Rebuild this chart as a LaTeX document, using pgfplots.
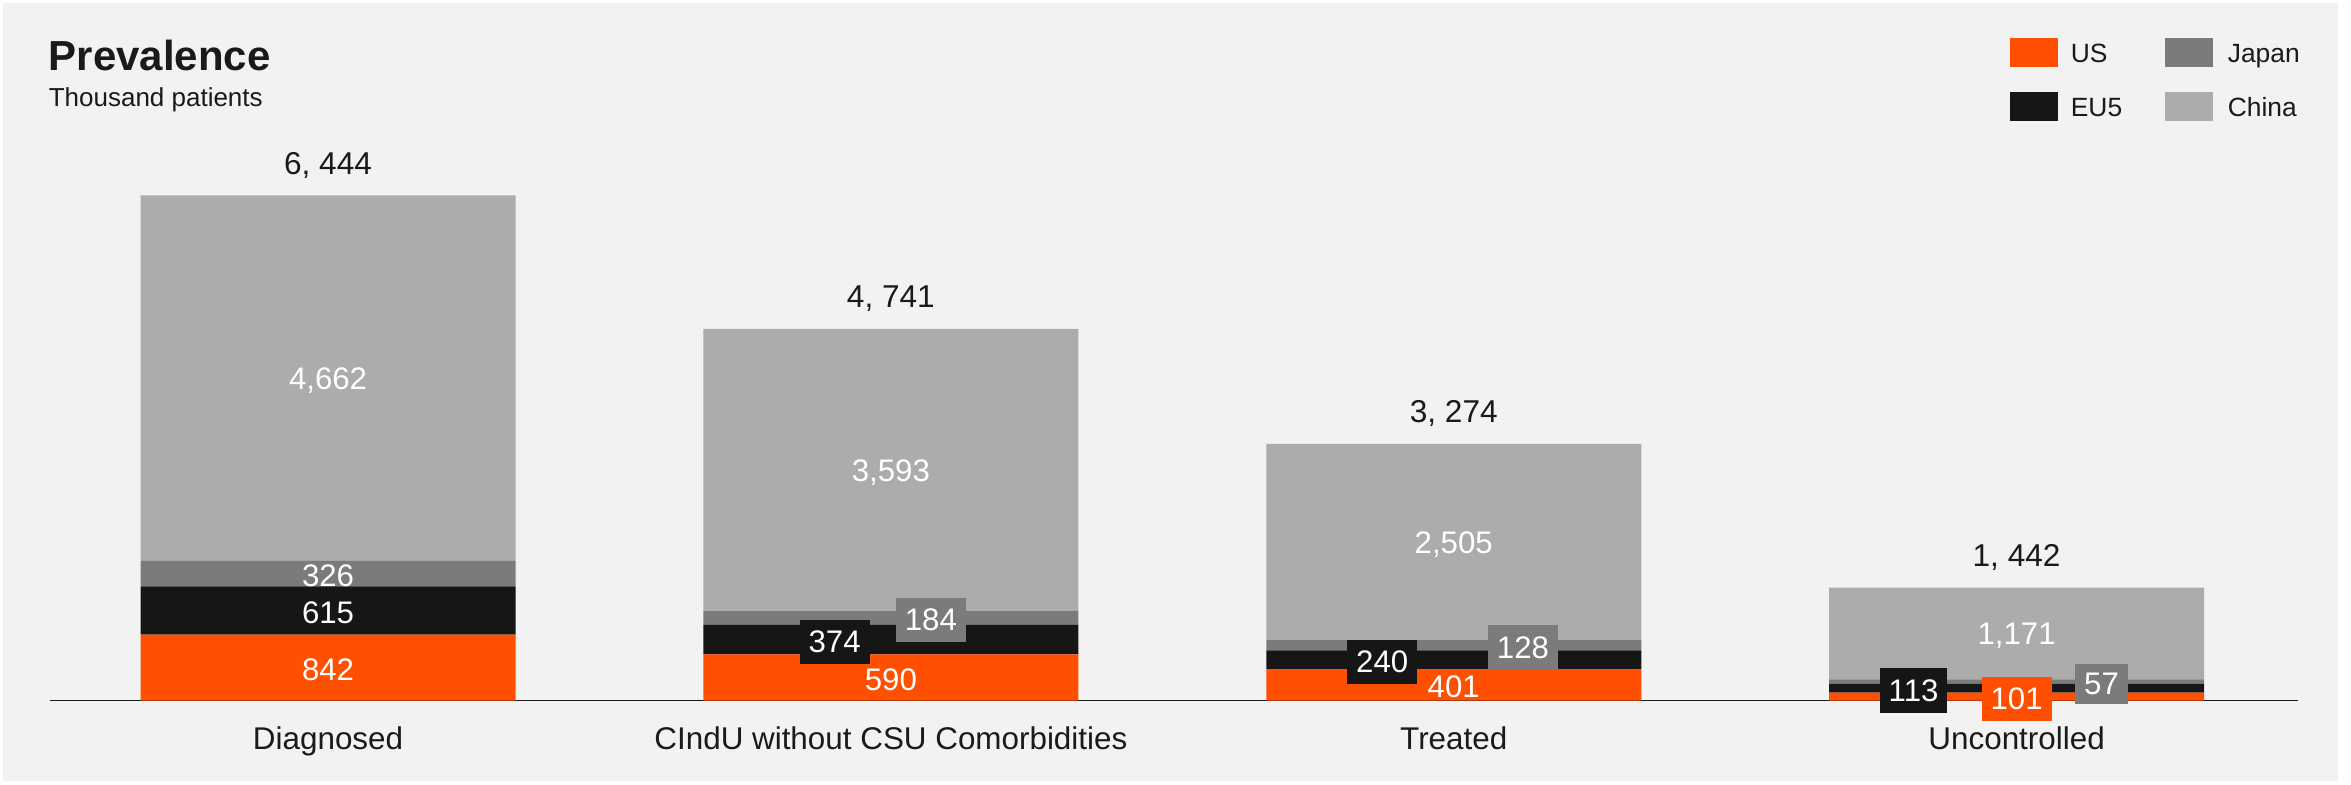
\documentclass[border=0pt]{standalone}
\usepackage{pgfplots}
\pgfplotsset{compat=1.18}
\usepackage{fontspec}
\setmainfont{Liberation Sans}
\definecolor{bg}{HTML}{F2F2F2}
\definecolor{us}{HTML}{FF4F00}
\definecolor{eu}{HTML}{161616}
\definecolor{jp}{HTML}{7B7B7B}
\definecolor{cn}{HTML}{ACACAC}
\definecolor{txt}{HTML}{1A1A1A}
\begin{document}
\begin{tikzpicture}[
  lbl/.style={font=\fontsize{7.8}{9}\selectfont, text=white, inner xsep=2.25pt, inner ysep=2.8pt, anchor=center, yshift=-0.6pt},
  tot/.style={font=\fontsize{7.9}{9}\selectfont, text=txt, anchor=base, yshift=5.3pt, inner sep=0pt},
  leg/.style={font=\fontsize{6.6}{8}\selectfont, text=txt, anchor=base west, inner sep=0pt}]
\useasboundingbox (-12.5pt,-20.875pt) rectangle (575.25pt,175.125pt);
\fill[white] (-12.5pt,-20.875pt) rectangle (575.25pt,175.125pt);
\fill[bg] (-11.75pt,-20.125pt) rectangle (572pt,174.375pt);
\begin{axis}[
  at={(0,0)}, anchor=south west,
  scale only axis, width=562pt, height=156.74pt,
  xmin=-0.494, xmax=3.5, ymin=0, ymax=8000,
  ybar stacked, bar width=93.75pt,
  axis x line*=bottom, axis y line=none,
  x axis line style={draw=txt, line width=0.45pt, -},
  xtick={0,1,2,3},
  xticklabels={Diagnosed, CIndU without CSU Comorbidities, Treated, Uncontrolled},
  major tick length=0pt,
  xticklabel style={font=\fontsize{7.85}{9}\selectfont, text=txt, anchor=base, yshift=-12.2pt, inner sep=0pt},
  ytick=\empty,
  clip=false,
]
\addplot[fill=us, draw=none] coordinates {(0,842) (1,590) (2,401) (3,101)};
\addplot[fill=eu, draw=none] coordinates {(0,615) (1,374) (2,240) (3,113)};
\addplot[fill=jp, draw=none] coordinates {(0,326) (1,184) (2,128) (3,57)};
\addplot[fill=cn, draw=none] coordinates {(0,4662) (1,3593) (2,2505) (3,1171)};
% label anchor positions (segment centres)
\coordinate (d1) at (axis cs:0,421);
\coordinate (d2) at (axis cs:0,1149.5);
\coordinate (d3) at (axis cs:0,1620);
\coordinate (d4) at (axis cs:0,4114);
\coordinate (c1) at (axis cs:1,295);
\coordinate (c2) at (axis cs:0.9,777);
\coordinate (c3) at (axis cs:1.071,1056);
\coordinate (c4) at (axis cs:1,2944.5);
\coordinate (t1) at (axis cs:2,200.5);
\coordinate (t2) at (axis cs:1.873,521);
\coordinate (t3) at (axis cs:2.123,705);
\coordinate (t4) at (axis cs:2,2021.5);
\coordinate (u1) at (axis cs:3,50.5);
\coordinate (u2) at (axis cs:2.817,157.5);
\coordinate (u3) at (axis cs:3.151,242.5);
\coordinate (u4) at (axis cs:3,856.5);
\coordinate (dT) at (axis cs:0,6445);
\coordinate (cT) at (axis cs:1,4741);
\coordinate (tT) at (axis cs:2,3274);
\coordinate (uT) at (axis cs:3,1442);
\end{axis}
% segment labels
\node[lbl] at (d1) {842};
\node[lbl] at (d2) {615};
\node[lbl] at (d3) {326};
\node[lbl] at (d4) {4,662};
\node[lbl] at (c1) {590};
\node[lbl, fill=eu] at (c2) {374};
\node[lbl, fill=jp] at (c3) {184};
\node[lbl] at (c4) {3,593};
\node[lbl] at (t1) {401};
\node[lbl, fill=eu] at (t2) {240};
\node[lbl, fill=jp] at (t3) {128};
\node[lbl] at (t4) {2,505};
\node[lbl, fill=eu] at (u2) {113};
\node[lbl, fill=us] at (u1) {101};
\node[lbl, fill=jp, inner ysep=2.3pt] at (u3) {57};
\node[lbl] at (u4) {1,171};
% totals
\node[tot] at (dT) {6, 444};
\node[tot] at (cT) {4, 741};
\node[tot] at (tT) {3, 274};
\node[tot] at (uT) {1, 442};
% title
\node[anchor=base west, inner sep=0pt, text=txt, font=\fontsize{10.5}{12}\selectfont\bfseries] at (-0.5pt,157.4pt) {Prevalence};
\node[anchor=base west, inner sep=0pt, text=txt, font=\fontsize{6.5}{8}\selectfont] at (-0.5pt,148.6pt) {Thousand patients};
% legend
\fill[us] (490pt,158.4pt) rectangle (502pt,165.6pt);
\fill[eu] (490pt,144.9pt) rectangle (502pt,152.1pt);
\fill[jp] (528.75pt,158.4pt) rectangle (540.75pt,165.6pt);
\fill[cn] (528.75pt,144.9pt) rectangle (540.75pt,152.1pt);
\node[leg] at (505pt,159.4pt) {US};
\node[leg] at (505pt,145.9pt) {EU5};
\node[leg] at (544.25pt,159.4pt) {Japan};
\node[leg] at (544.25pt,145.9pt) {China};
\end{tikzpicture}
\end{document}
